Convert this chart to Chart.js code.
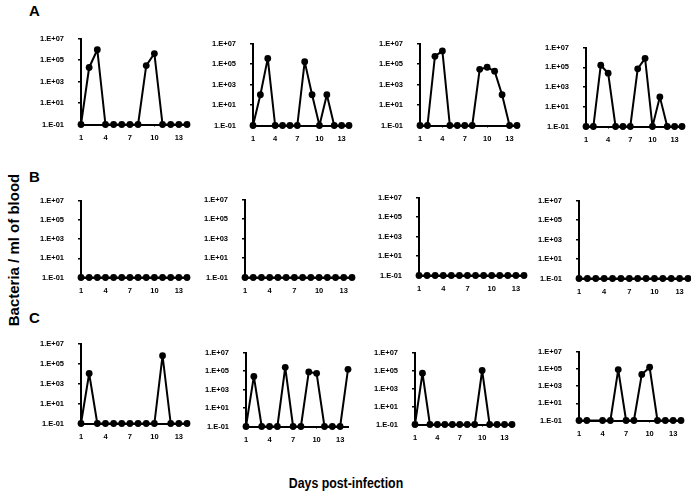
<!DOCTYPE html>
<html>
<head>
<meta charset="utf-8">
<script src="https://cdn.jsdelivr.net/npm/chart.js@4"></script>
<style>
body { margin: 0; background: #fff; width: 691px; height: 501px; overflow: hidden; position: relative; }
.pane { position: absolute; }
.txt { position: absolute; font-family: 'Liberation Sans', Arial, sans-serif; font-weight: bold; color: #000; white-space: nowrap; }
</style>
</head>
<body>
<div class="txt" style="left:29px;top:2px;font-size:15px;">A</div>
<div class="txt" style="left:29px;top:168px;font-size:15px;">B</div>
<div class="txt" style="left:29px;top:309px;font-size:15px;">C</div>
<div class="txt" style="left:346px;top:475px;font-size:14px;transform:translateX(-50%) scaleX(0.88);">Days post-infection</div>
<div class="txt" style="left:13px;top:250px;font-size:15px;transform:translate(-50%,-50%) rotate(-90deg);">Bacteria / ml of blood</div>

<script>
// days post-infection
const days = [1, 2, 3, 4, 5, 6, 7, 8, 9, 10, 11, 12, 13, 14];
const xTicks = [1, 4, 7, 10, 13];
const yTicks = [0.1, 10, 1e3, 1e5, 1e7];
const yLabels = ['1.E-01', '1.E+01', '1.E+03', '1.E+05', '1.E+07'];

// bacteria / ml of blood, 0.1 = below detection
const a1 = [0.1, 2e4, 9e5, 0.1, 0.1, 0.1, 0.1, 0.1, 3e4, 4e5, 0.1, 0.1, 0.1, 0.1];
const a2 = [0.1, 100, 3.5e5, 0.1, 0.1, 0.1, 0.1, 1.7e5, 100, 0.1, 100, 0.1, 0.1, 0.1];
const a3 = [0.1, 0.1, 5.6e5, 1.9e6, 0.1, 0.1, 0.1, 0.1, 3e4, 4.8e4, 2e4, 100, 0.1, 0.1];
const a4 = [0.1, 0.1, 1.6e5, 2.5e4, 0.1, 0.1, 0.1, 7e4, 8e5, 0.1, 100, 0.1, 0.1, 0.1];
const b1 = [0.1, 0.1, 0.1, 0.1, 0.1, 0.1, 0.1, 0.1, 0.1, 0.1, 0.1, 0.1, 0.1, 0.1];
const b2 = [0.1, 0.1, 0.1, 0.1, 0.1, 0.1, 0.1, 0.1, 0.1, 0.1, 0.1, 0.1, 0.1, 0.1];
const b3 = [0.1, 0.1, 0.1, 0.1, 0.1, 0.1, 0.1, 0.1, 0.1, 0.1, 0.1, 0.1, 0.1, 0.1];
const b4 = [0.1, 0.1, 0.1, 0.1, 0.1, 0.1, 0.1, 0.1, 0.1, 0.1, 0.1, 0.1, 0.1, 0.1];
const c1 = [0.1, 1e4, 0.1, 0.1, 0.1, 0.1, 0.1, 0.1, 0.1, 0.1, 6e5, 0.1, 0.1, 0.1];
const c2 = [0.1, 2.6e4, 0.1, 0.1, 0.1, 2.5e5, 0.1, 0.1, 8e4, 5.6e4, 0.1, 0.1, 0.1, 1.5e5];
const c3 = [0.1, 5e4, 0.1, 0.1, 0.1, 0.1, 0.1, 0.1, 0.1, 1e5, 0.1, 0.1, 0.1, 0.1];
const c4 = [0.1, 0.1, null, 0.1, 0.1, 8e4, 0.1, 0.1, 2.2e4, 1.5e5, 0.1, 0.1, 0.1, 0.1];

// plot area of each panel on the page: left, top, right, bottom
const panes = [
    [a1, 81, 38, 187, 124], [a2, 253, 43, 349, 125], [a3, 420, 43, 517, 125], [a4, 586, 47, 682, 126],
    [b1, 81, 200, 187, 277], [b2, 245, 199, 352, 277], [b3, 419, 197, 524, 275], [b4, 579, 200, 688, 278],
    [c1, 81, 343, 187, 423], [c2, 246, 352, 348, 426], [c3, 415, 352, 512, 424], [c4, 579, 351, 681, 420]
];

const YW = 48, XH = 22, PR = 6;
const tickFont = { family: "'Liberation Sans', Arial, sans-serif", size: 7.5, weight: 'bold' };

panes.forEach(function (p) {
    const vals = p[0], L = p[1], T = p[2], R = p[3], B = p[4];
    const cv = document.createElement('canvas');
    let w = R - L + YW + PR, h = B - T + 30 + XH;
    cv.className = 'pane';
    cv.style.width = w + 'px';
    cv.style.height = h + 'px';
    document.body.appendChild(cv);

    const chart = new Chart(cv, {
        type: 'line',
        data: {
            datasets: [{
                data: days.map((d, i) => ({ x: d, y: vals[i] })),
                borderColor: '#000',
                borderWidth: 2,
                borderJoinStyle: 'round',
                backgroundColor: '#000',
                pointBackgroundColor: '#000',
                pointBorderWidth: 0,
                pointRadius: 3.4,
                spanGaps: true,
                clip: false
            }]
        },
        options: {
            responsive: false,
            maintainAspectRatio: false,
            animation: false,
            layout: { padding: { top: 0, right: PR, left: 0, bottom: 0 } },
            plugins: { legend: { display: false }, tooltip: { enabled: false } },
            scales: {
                x: {
                    type: 'linear', min: 1, max: 14,
                    afterBuildTicks: s => { s.ticks = xTicks.map(v => ({ value: v })); },
                    afterFit: s => { s.height = XH; },
                    ticks: { color: '#000', font: tickFont, padding: 7, maxRotation: 0, autoSkip: false },
                    grid: { drawOnChartArea: false, drawTicks: true, tickLength: 2, color: '#000', lineWidth: 1 },
                    border: { color: '#000', width: 2 }
                },
                y: {
                    type: 'logarithmic', min: 0.1, max: 1e7,
                    afterBuildTicks: s => { s.ticks = yTicks.map(v => ({ value: v })); },
                    afterFit: s => { s.width = YW; },
                    ticks: { color: '#000', font: tickFont, padding: 14, autoSkip: false,
                        callback: (v, i) => yLabels[i] },
                    grid: { drawOnChartArea: false, drawTicks: true, tickLength: 3, color: '#000', lineWidth: 1.5 },
                    border: { color: '#000', width: 2 }
                }
            }
        }
    });

    // move the canvas so that the plot area sits where it does in the figure
    const a = chart.chartArea;
    const top = a.top, left = a.left, gapR = w - a.right, gapB = h - a.bottom;
    w = (R - L) + left + gapR;
    h = (B - T) + top + gapB;
    cv.style.left = (L - left) + 'px';
    cv.style.top = (T - top) + 'px';
    chart.resize(w, h);
});
</script>
</body>
</html>
